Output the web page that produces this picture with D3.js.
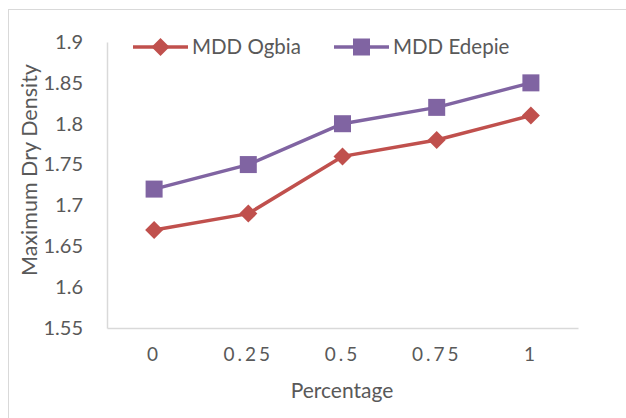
<!DOCTYPE html>
<html>
<head>
<meta charset="utf-8">
<script src="https://cdn.jsdelivr.net/npm/d3@7"></script>
<style>
  html, body { margin: 0; padding: 0; background: #fff; }
  svg { display: block; }
  text { font-family: Lato, "Open Sans", sans-serif; fill: #595959; }
</style>
</head>
<body>
<svg id="chart" width="626" height="418"></svg>
<script>
// Maximum dry density against additive percentage
const categories = ["0", "0.25", "0.5", "0.75", "1"];
const ogbia = [1.67, 1.69, 1.76, 1.78, 1.81];
const edepie = [1.72, 1.75, 1.80, 1.82, 1.85];
const yTicks = [1.55, 1.6, 1.65, 1.7, 1.75, 1.8, 1.85, 1.9];

const series = [
  { name: "MDD Ogbia", values: ogbia, color: "#C0504D", symbol: "diamond" },
  { name: "MDD Edepie", values: edepie, color: "#8064A2", symbol: "square" }
];

const svg = d3.select("#chart");
const W = 626, H = 418;
const plot = { left: 107, right: 578, top: 42, bottom: 328 };
const FS = "20px";

// chart frame
svg.append("rect")
  .attr("x", 8.5).attr("y", 9.5)
  .attr("width", W + 10).attr("height", H + 10)
  .attr("fill", "#fff").attr("stroke", "#d9d9d9").attr("stroke-width", 1);

const x = d3.scaleBand().domain(categories).range([plot.left, plot.right]);
const y = d3.scaleLinear().domain([1.55, 1.9]).range([plot.bottom, plot.top]);

// axes
const yAxis = svg.append("g")
  .attr("transform", `translate(${plot.left},0)`)
  .call(d3.axisLeft(y).tickValues(yTicks).tickSize(0).tickPadding(24).tickFormat(d3.format("")));
yAxis.select(".domain").attr("stroke", "#d9d9d9").attr("stroke-width", 1.5);
yAxis.selectAll("text").style("font-size", FS).attr("fill", "#595959");

const xAxis = svg.append("g")
  .attr("transform", `translate(0,${plot.bottom})`)
  .call(d3.axisBottom(x).tickSize(0).tickPadding(20));
xAxis.select(".domain").attr("stroke", "#d9d9d9").attr("stroke-width", 1.5);
xAxis.selectAll("text").style("font-size", "19px").style("letter-spacing", "3px").attr("fill", "#595959");

// axis titles
svg.append("text")
  .attr("x", 342).attr("y", 398)
  .attr("text-anchor", "middle").style("font-size", "21px")
  .text("Percentage");
svg.append("text")
  .attr("transform", `translate(37,170) rotate(-90)`)
  .attr("text-anchor", "middle").style("font-size", "21.5px")
  .text("Maximum Dry Density");

const cx = d => x(d) + x.bandwidth() / 2;

function drawMarker(g, s, px, py) {
  if (s.symbol === "square") {
    g.append("rect")
      .attr("x", px - 8.5).attr("y", py - 8.5)
      .attr("width", 17).attr("height", 17)
      .attr("fill", s.color);
  } else {
    g.append("path")
      .attr("d", `M${px},${py - 9}L${px + 9},${py}L${px},${py + 9}L${px - 9},${py}Z`)
      .attr("fill", s.color);
  }
}

const line = d3.line().x((d, i) => cx(categories[i])).y(d => y(d));

series.forEach(s => {
  const g = svg.append("g");
  g.append("path")
    .datum(s.values)
    .attr("d", line)
    .attr("fill", "none")
    .attr("stroke", s.color)
    .attr("stroke-width", 3.5)
    .attr("stroke-linejoin", "round");
  s.values.forEach((v, i) => drawMarker(g, s, cx(categories[i]), y(v)));
});

// legend
const legendItems = [
  { s: series[0], x0: 133 },
  { s: series[1], x0: 334 }
];
legendItems.forEach(({ s, x0 }) => {
  const g = svg.append("g");
  const ly = 47;
  g.append("line")
    .attr("x1", x0).attr("x2", x0 + 55)
    .attr("y1", ly).attr("y2", ly)
    .attr("stroke", s.color).attr("stroke-width", 3.5);
  drawMarker(g, s, x0 + 27.5, ly);
  g.append("text")
    .attr("x", x0 + 59).attr("y", ly + 7)
    .style("font-size", "20.5px")
    .text(s.name);
});
</script>
</body>
</html>
